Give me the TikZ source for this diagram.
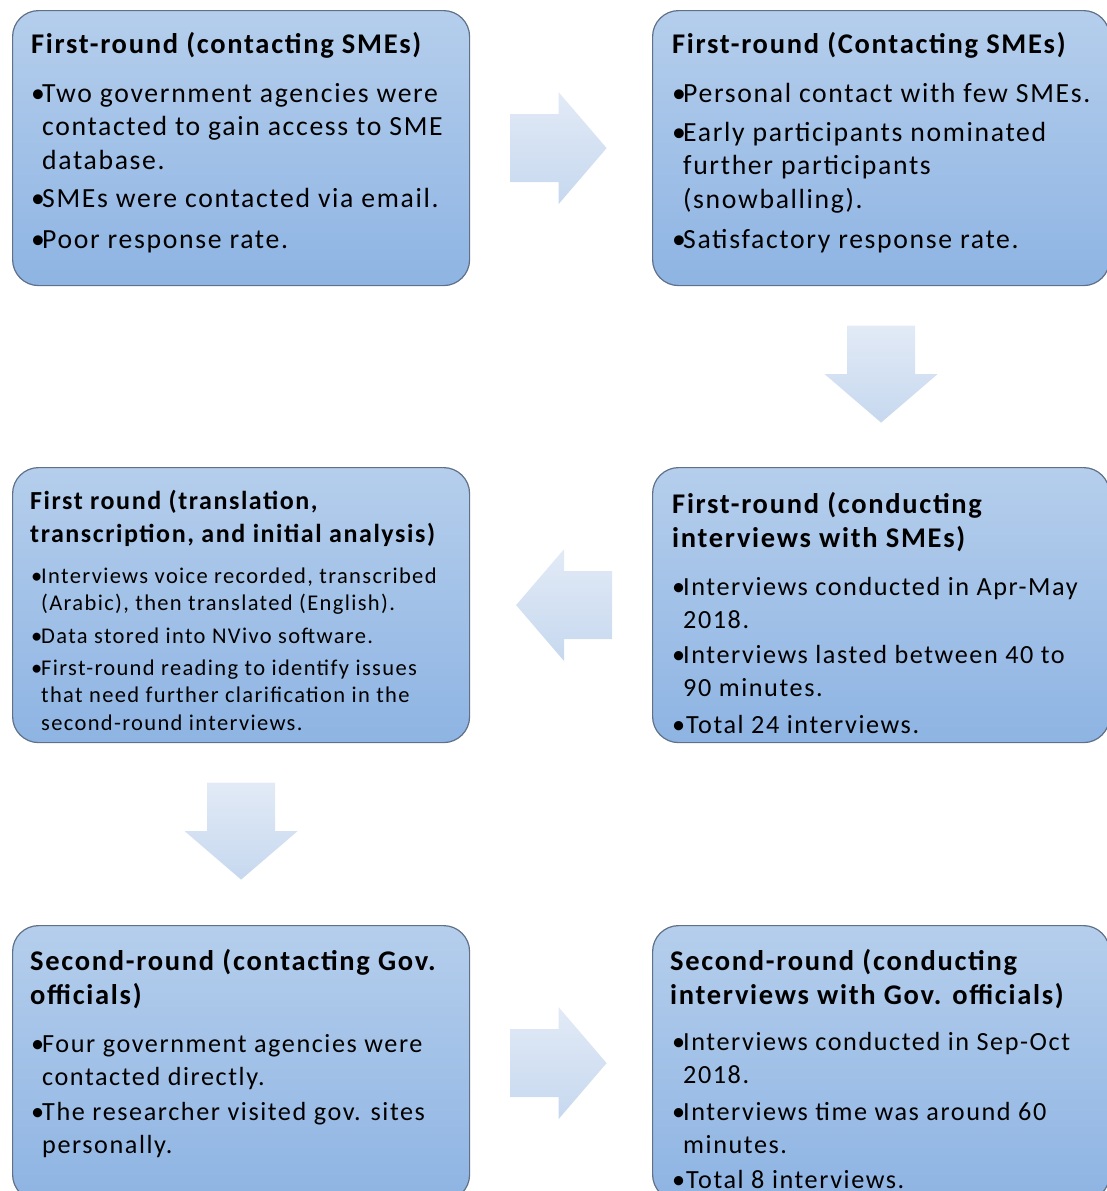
\documentclass[tikz,border=0pt]{standalone}
\usepackage{fontspec}
\setmainfont{Carlito}[LetterSpace=6]
\usetikzlibrary{calc}
\definecolor{boxtop}{RGB}{181,206,236}
\definecolor{boxbot}{RGB}{142,180,227}
\definecolor{boxline}{RGB}{95,112,135}
\definecolor{arrtop}{RGB}{226,234,246}
\definecolor{arrbot}{RGB}{198,216,239}
\newcommand\bodyA{\fontsize{27.7}{33.5}\selectfont}
\newcommand\bodyC{\fontsize{26.2}{33}\selectfont}
\newcommand\bodyB{\fontsize{22.5}{27.5}\selectfont}
\newcommand\titleA{\fontsize{28.5}{34}\selectfont\bfseries}
\newcommand\titleB{\fontsize{26}{33}\selectfont\bfseries}
\newcommand\itm[2][11pt]{\makebox[#1][l]{•}\begin{tabular}[t]{@{}l@{}}#2\end{tabular}}
\newcommand\ttl[1]{\begin{tabular}[t]{@{}l@{}}#1\end{tabular}}
\newcommand\rightblock[1]{\begin{scope}[shift={(#1)}]\path[blockarrow] (-48,-34) -- (0,-34) -- (0,-56) -- (48,0) -- (0,56) -- (0,34) -- (-48,34) -- cycle;\end{scope}}
\newcommand\leftblock[1]{\begin{scope}[shift={(#1)}]\path[blockarrow] (48,-34) -- (0,-34) -- (0,-56) -- (-48,0) -- (0,56) -- (0,34) -- (48,34) -- cycle;\end{scope}}
\newcommand\downblock[1]{\begin{scope}[shift={(#1)}]\path[blockarrow] (-34,-48.5) -- (34,-48.5) -- (34,0) -- (56.5,0) -- (0,48.5) -- (-56.5,0) -- (-34,0) -- cycle;\end{scope}}
\begin{document}
\begin{tikzpicture}[x=1pt,y=-1pt,
  panel/.style={draw=boxline, line width=1.2pt, rounded corners=26pt, top color=boxtop, bottom color=boxbot, minimum width=457pt, minimum height=275pt, inner sep=0pt, anchor=north west},
  txt/.style={anchor=base west, inner sep=0pt, text=black},
  blockarrow/.style={top color=arrtop, bottom color=arrbot, draw=none}]
\useasboundingbox (0,0) rectangle (1107,1191);
\clip (0,0) rectangle (1107,1191);
% boxes
\node[panel] (b1) at (12,10) {};
\node[panel] (b2) at (652,10) {};
\node[panel] (b3) at (12,467) {};
\node[panel] (b4) at (652,467) {};
\node[panel] (b5) at (12,925) {};
\node[panel] (b6) at (652,925) {};
% arrows
\coordinate (m12) at ($(b1.east)!0.5!(b2.west)+(-2.5,0)$);
\coordinate (m24) at ($(b2.south)!0.5!(b4.north)+(0,-2.5)$);
\coordinate (m43) at ($(b4.west)!0.5!(b3.east)+(3,0)$);
\coordinate (m35) at ($(b3.south)!0.5!(b5.north)+(0,-3)$);
\coordinate (m56) at ($(b5.east)!0.5!(b6.west)+(-2.5,0)$);
\rightblock{m12}
\downblock{m24}
\leftblock{m43}
\downblock{m35}
\rightblock{m56}
% box 1
\node[txt,font=\titleA] (h1) at (31,53) {First-round (contacting SMEs)};
\node[txt,font=\bodyA] (i1a) at (31,102) {\itm{Two government agencies were\\contacted to gain access to SME\\database.}};
\node[txt,font=\bodyA] (i1b) at (31,207) {\itm{SMEs were contacted via email.}};
\node[txt,font=\bodyA] (i1c) at (31,248) {\itm{Poor response rate.}};
% box 2
\node[txt,font=\titleA] (h2) at (672,53) {First-round (Contacting SMEs)};
\node[txt,font=\bodyA] (i2a) at (672,102) {\itm{Personal contact with few SMEs.}};
\node[txt,font=\bodyA] (i2b) at (672,141) {\itm{Early participants nominated\\further participants\\(snowballing).}};
\node[txt,font=\bodyA] (i2c) at (672,248) {\itm{Satisfactory response rate.}};
% box 3
\node[txt,font=\titleB] (h3) at (30,509) {\ttl{First round (translation,\\transcription, and initial analysis)}};
\node[txt,font=\bodyB] (i3a) at (31,583) {\itm[10pt]{Interviews voice recorded, transcribed\\(Arabic), then translated (English).}};
\node[txt,font=\bodyB] (i3b) at (31,643) {\itm[10pt]{Data stored into NVivo software.}};
\node[txt,font=\bodyB] (i3c) at (31,675) {\itm[10pt]{First-round reading to identify issues\\that need further clarification in the\\second-round interviews.}};
% box 4
\node[txt,font=\titleA] (h4) at (672,513) {\ttl{First-round (conducting\\interviews with SMEs)}};
\node[txt,font=\bodyC] (i4a) at (672,595) {\itm{Interviews conducted in Apr-May\\2018.}};
\node[txt,font=\bodyC] (i4b) at (672,663) {\itm{Interviews lasted between 40 to\\90 minutes.}};
\node[txt,font=\bodyC] (i4c) at (672,733) {\itm[14pt]{Total 24 interviews.}};
% box 5
\node[txt,font=\titleA] (h5) at (30,970) {\ttl{Second-round (contacting Gov.\\officials)}};
\node[txt,font=\bodyC] (i5a) at (31,1052) {\itm{Four government agencies were\\contacted directly.}};
\node[txt,font=\bodyC] (i5b) at (31,1120) {\itm{The researcher visited gov. sites\\personally.}};
% box 6
\node[txt,font=\titleA] (h6) at (670,970) {\ttl{Second-round (conducting\\interviews with Gov. officials)}};
\node[txt,font=\bodyC] (i6a) at (672,1050) {\itm{Interviews conducted in Sep-Oct\\2018.}};
\node[txt,font=\bodyC] (i6b) at (672,1120) {\itm{Interviews time was around 60\\minutes.}};
\node[txt,font=\bodyC] (i6c) at (672,1188) {\itm[14pt]{Total 8 interviews.}};
\end{tikzpicture}
\end{document}
